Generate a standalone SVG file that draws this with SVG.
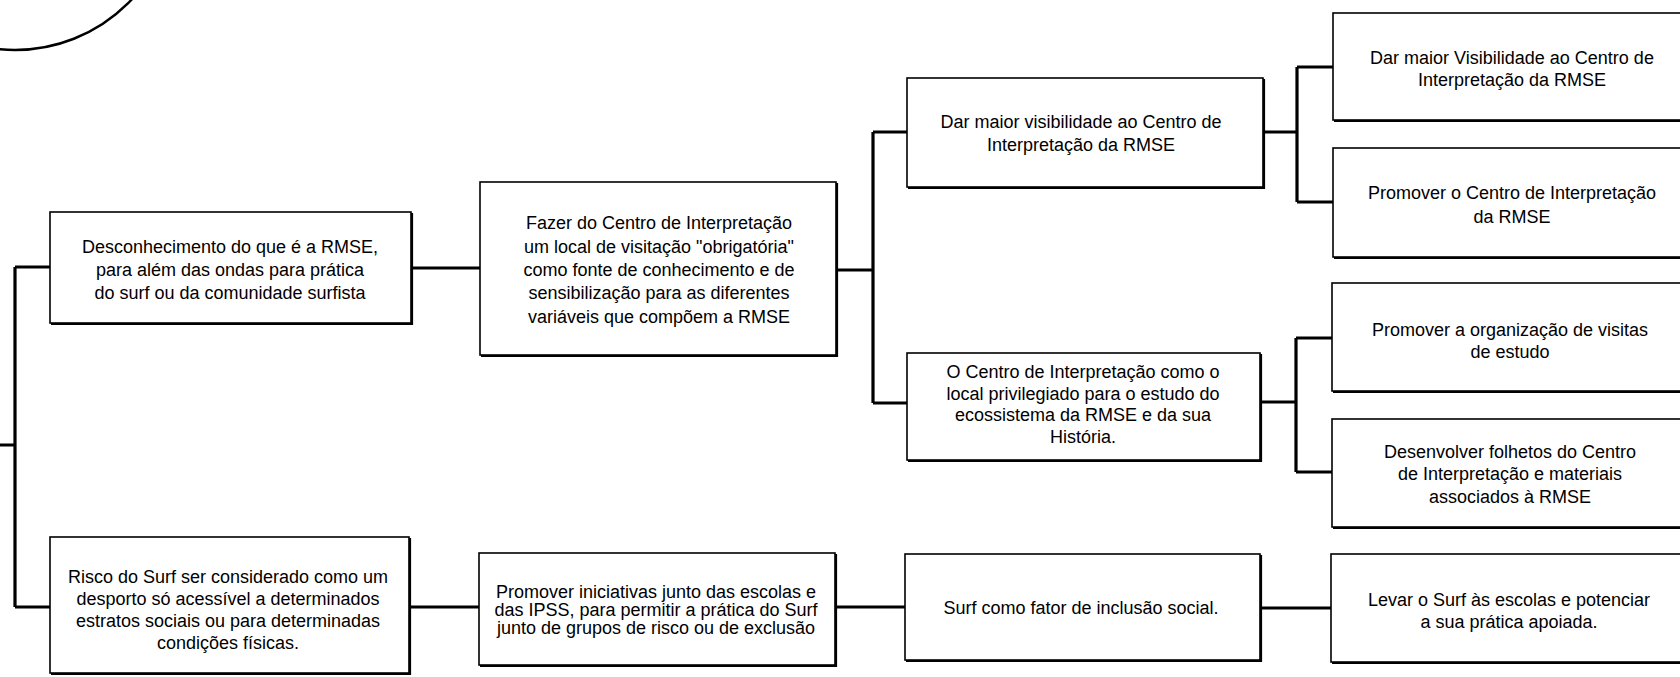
<svg xmlns="http://www.w3.org/2000/svg" width="1680" height="677" viewBox="0 0 1680 677">
<style>
.box{fill:#fff;stroke:#000;stroke-width:1.6}
.sh{fill:none;stroke:#000;stroke-width:2.2}
.t{font-family:"Liberation Sans",Arial,sans-serif;font-size:18px;fill:#000;text-anchor:middle}
.c{fill:none;stroke:#000;stroke-width:3.2}
</style>
<rect width="1680" height="677" fill="#fff"/>
<circle cx="15" cy="-110" r="160" fill="none" stroke="#000" stroke-width="2.5"/>
<g id="connectors">
<path class="c" d="M0 445 H15 M15 267 V607 M15 267 H50 M15 607 H50"/>
<path class="c" d="M411 268 H480"/>
<path class="c" d="M836 270 H873 M873 132 V403 M873 132 H907 M873 403 H907"/>
<path class="c" d="M1263 132 H1297 M1297 67 V202 M1297 67 H1333 M1297 202 H1333"/>
<path class="c" d="M1260 402 H1296 M1296 338 V472 M1296 338 H1332 M1296 472 H1332"/>
<path class="c" d="M409 607 H479 M835 607 H905 M1260 608 H1331"/>
</g>
<g id="n1">
<rect class="box" x="50" y="212" width="361" height="111"/>
<path class="sh" d="M51 324 H412 V213"/>
<text class="t"><tspan x="230" y="253">Desconhecimento do que é a RMSE,</tspan><tspan x="230" y="276">para além das ondas para prática</tspan><tspan x="230" y="299">do surf ou da comunidade surfista</tspan></text>
</g>
<g id="n2">
<rect class="box" x="50" y="537" width="359" height="136"/>
<path class="sh" d="M51 674 H410 V538"/>
<text class="t"><tspan x="228" y="583">Risco do Surf ser considerado como um</tspan><tspan x="228" y="605">desporto só acessível a determinados</tspan><tspan x="228" y="627">estratos sociais ou para determinadas</tspan><tspan x="228" y="649">condições físicas.</tspan></text>
</g>
<g id="n3">
<rect class="box" x="480" y="182" width="356" height="173"/>
<path class="sh" d="M481 356 H837 V183"/>
<text class="t"><tspan x="659" y="229">Fazer do Centro de Interpretação</tspan><tspan x="659" y="253">um local de visitação "obrigatória"</tspan><tspan x="659" y="276">como fonte de conhecimento e de</tspan><tspan x="659" y="299">sensibilização para as diferentes</tspan><tspan x="659" y="323">variáveis que compõem a RMSE</tspan></text>
</g>
<g id="n4">
<rect class="box" x="479" y="553" width="356" height="112"/>
<path class="sh" d="M480 666 H836 V554"/>
<text class="t"><tspan x="656" y="598">Promover iniciativas junto das escolas e</tspan><tspan x="656" y="616">das IPSS, para permitir a prática do Surf</tspan><tspan x="656" y="634">junto de grupos de risco ou de exclusão</tspan></text>
</g>
<g id="n5">
<rect class="box" x="907" y="78" width="356" height="109"/>
<path class="sh" d="M908 188 H1264 V79"/>
<text class="t"><tspan x="1081" y="128">Dar maior visibilidade ao Centro de</tspan><tspan x="1081" y="151">Interpretação da RMSE</tspan></text>
</g>
<g id="n6">
<rect class="box" x="907" y="353" width="353" height="107"/>
<path class="sh" d="M908 461 H1261 V354"/>
<text class="t"><tspan x="1083" y="378">O Centro de Interpretação como o</tspan><tspan x="1083" y="399.5">local privilegiado para o estudo do</tspan><tspan x="1083" y="421">ecossistema da RMSE e da sua</tspan><tspan x="1083" y="442.5">História.</tspan></text>
</g>
<g id="n7">
<rect class="box" x="905" y="554" width="355" height="106"/>
<path class="sh" d="M906 661 H1261 V555"/>
<text class="t"><tspan x="1081" y="614">Surf como fator de inclusão social.</tspan></text>
</g>
<g id="n8">
<rect class="box" x="1333" y="13" width="360" height="107"/>
<path class="sh" d="M1334 121 H1693"/>
<text class="t"><tspan x="1512" y="64">Dar maior Visibilidade ao Centro de</tspan><tspan x="1512" y="86">Interpretação da RMSE</tspan></text>
</g>
<g id="n9">
<rect class="box" x="1333" y="148" width="360" height="109"/>
<path class="sh" d="M1334 258 H1693"/>
<text class="t"><tspan x="1512" y="199">Promover o Centro de Interpretação</tspan><tspan x="1512" y="223">da RMSE</tspan></text>
</g>
<g id="n10">
<rect class="box" x="1332" y="283" width="360" height="108"/>
<path class="sh" d="M1333 392 H1692"/>
<text class="t"><tspan x="1510" y="336">Promover a organização de visitas</tspan><tspan x="1510" y="358">de estudo</tspan></text>
</g>
<g id="n11">
<rect class="box" x="1332" y="419" width="360" height="108"/>
<path class="sh" d="M1333 528 H1692"/>
<text class="t"><tspan x="1510" y="458">Desenvolver folhetos do Centro</tspan><tspan x="1510" y="480">de Interpretação e materiais</tspan><tspan x="1510" y="503">associados à RMSE</tspan></text>
</g>
<g id="n12">
<rect class="box" x="1331" y="554" width="360" height="108"/>
<path class="sh" d="M1332 663 H1691"/>
<text class="t"><tspan x="1509" y="606">Levar o Surf às escolas e potenciar</tspan><tspan x="1509" y="628">a sua prática apoiada.</tspan></text>
</g>
</svg>
